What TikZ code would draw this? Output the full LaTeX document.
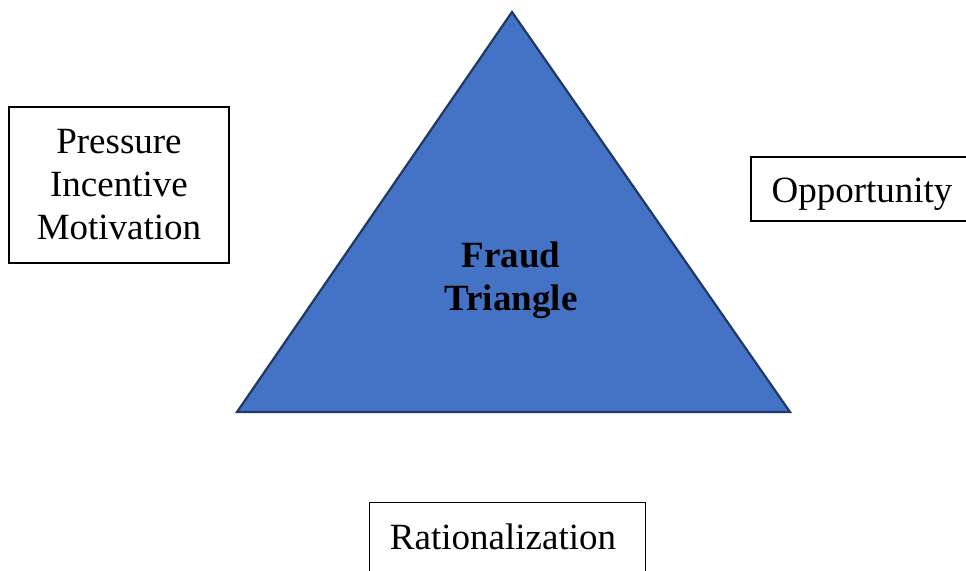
\documentclass[tikz,border=0pt]{standalone}
\usepackage{fontspec}
\setmainfont{Liberation Serif}
\definecolor{triFill}{HTML}{4472C4}
\definecolor{triLine}{HTML}{1F3864}
\begin{document}
\begin{tikzpicture}[x=1pt,y=-1pt,
  labelbox/.style={draw=black,line width=1.4pt,fill=white,inner sep=0pt,font=\fontsize{37}{43}\selectfont,align=center},
  tritext/.style={font=\fontsize{37}{43}\selectfont\bfseries,align=center,text=black}]
\useasboundingbox (0,0) rectangle (966,570);
\clip (0,0) rectangle (966,570);
\coordinate (apex) at (512,12);
\coordinate (bl) at (237,412);
\coordinate (br) at (790,412);
\fill[triFill] (apex) -- (bl) -- (br) -- cycle;
\draw[triLine,line width=2.2pt,line join=miter] (apex) -- (bl) -- (br) -- cycle;
\node[tritext] (fraud) at (511,280) {Fraud\\Triangle};
\node[labelbox,minimum width=220pt,minimum height=156pt] (pressure) at (119,185) {Pressure\\Incentive\\Motivation};
\node[labelbox,minimum width=222pt,minimum height=64pt] (opp) at (862,189) {};
\node[font=\fontsize{37}{43}\selectfont] (opptext) at (862,194) {Opportunity};
\node[labelbox,minimum width=276pt,minimum height=80pt,anchor=north west] (rat) at (369,502) {};
\node[font=\fontsize{37}{43}\selectfont] (rattext) at (503,537) {Rationalization};
\end{tikzpicture}
\end{document}
